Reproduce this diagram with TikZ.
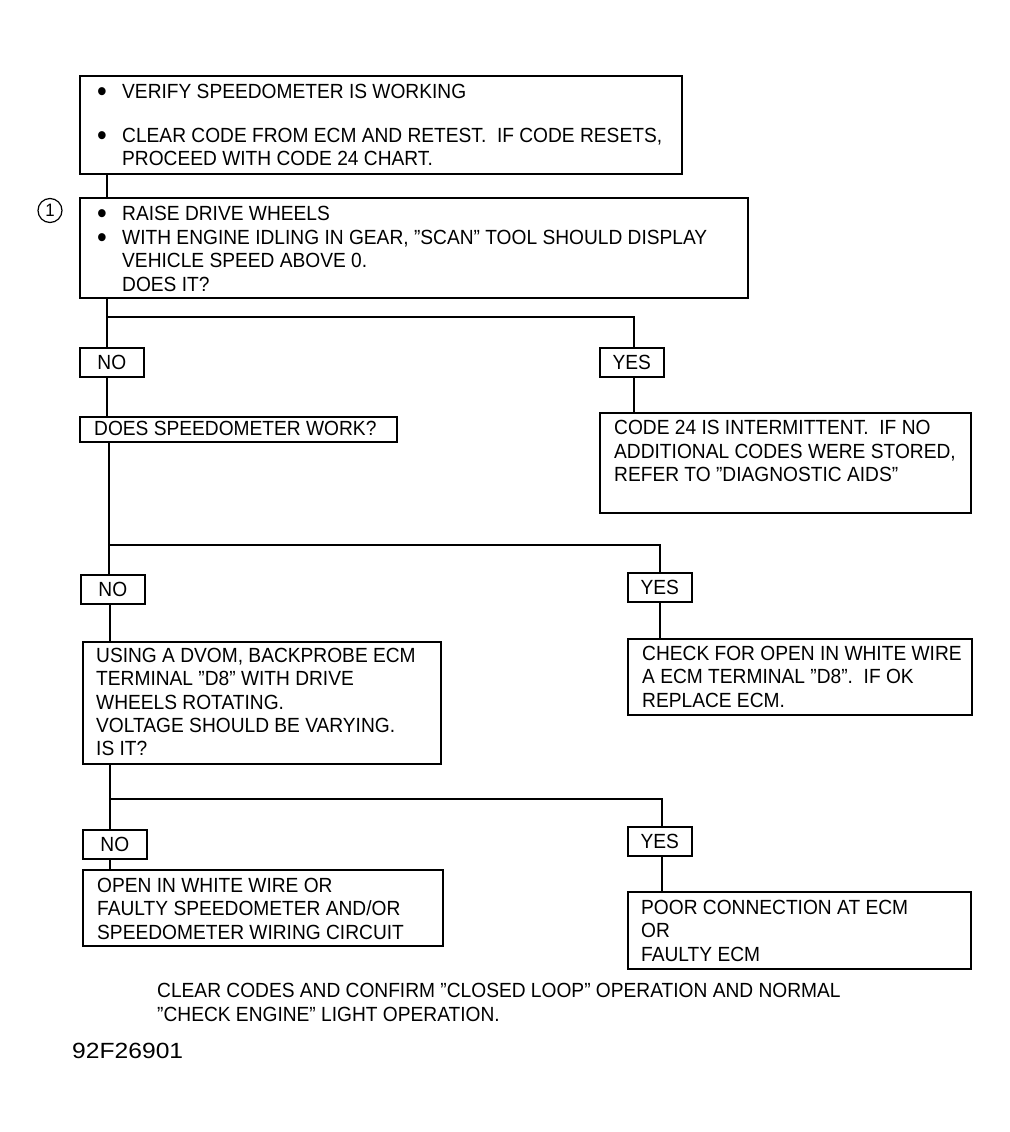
\documentclass[tikz,border=0pt]{standalone}
\usepackage{fontspec}
\setmainfont[FakeStretch=0.935]{Liberation Sans}
\newfontfamily\codefont[FakeStretch=1.12]{Liberation Sans}
\newcommand\bodyfont{\fontsize{20.5}{23.3}\selectfont}
\newcommand\bul{\makebox[25pt][l]{\raisebox{-3pt}[0pt][0pt]{\scalebox{1.45}{\textbullet}}}}
\newcommand\ind{\hspace*{25pt}}
\tikzset{
  box/.style={draw, line width=1.6pt, anchor=north west, inner sep=0pt},
  lab/.style={draw, line width=1.6pt, anchor=north west, inner sep=0pt, font=\bodyfont, minimum width=64pt, minimum height=29pt},
  txt/.style={anchor=north west, inner sep=0pt, align=left, font=\bodyfont},
  wire/.style={line width=1.6pt},
}
\begin{document}
\begin{tikzpicture}[x=1pt,y=-1pt]
\useasboundingbox[fill=white] (0,0) rectangle (1009,1132);

% column positions of the connectors
\coordinate (xa) at (107,0);
\coordinate (xb) at (634,0);
\coordinate (xc) at (109,0);
\coordinate (xd) at (660,0);
\coordinate (xe) at (110,0);
\coordinate (xf) at (662,0);
\coordinate (ya) at (0,317);
\coordinate (yb) at (0,545);
\coordinate (yc) at (0,799);

% boxes
\node[box, minimum width=602pt, minimum height=98pt] (b1) at (79,75) {};
\node[box, minimum width=668pt, minimum height=100pt] (b2) at (79,197) {};
\node[lab] (no1) at (79,347) {NO};
\node[lab] (yes1) at (599,347) {YES};
\node[box, minimum width=317pt, minimum height=25pt] (b3) at (79,416) {};
\node[box, minimum width=371pt, minimum height=100pt] (b4) at (599,412) {};
\node[lab] (no2) at (80,574) {NO};
\node[lab] (yes2) at (627,572) {YES};
\node[box, minimum width=358pt, minimum height=122pt] (b5) at (82,641) {};
\node[box, minimum width=344pt, minimum height=76pt] (b6) at (627,638) {};
\node[lab] (no3) at (82,829) {NO};
\node[lab] (yes3) at (627,826) {YES};
\node[box, minimum width=360pt, minimum height=76pt] (b7) at (82,869) {};
\node[box, minimum width=343pt, minimum height=77pt] (b8) at (627,891) {};

% texts
\node[txt] (t1) at (97,84) {\bul VERIFY SPEEDOMETER IS WORKING\\[20.7pt]
\bul CLEAR CODE FROM ECM AND RETEST.\ \ IF CODE RESETS,\\
\ind PROCEED WITH CODE 24 CHART.};
\node[txt, font=\fontsize{20.5}{23.6}\selectfont] (t2) at (97,206) {\bul RAISE DRIVE WHEELS\\
\bul WITH ENGINE IDLING IN GEAR, "SCAN" TOOL SHOULD DISPLAY\\
\ind VEHICLE SPEED ABOVE 0.\\
\ind DOES IT?};
\node[circle, draw, line width=1.2pt, minimum size=24pt, inner sep=0pt, font=\fontsize{18}{18}\selectfont] (c1) at (50,210.5) {1};
\node[txt] (t3) at (94,421) {DOES SPEEDOMETER WORK?};
\node[txt, font=\fontsize{20.5}{23.5}\selectfont] (t4) at (614,420) {CODE 24 IS INTERMITTENT.\ \ IF NO\\
ADDITIONAL CODES WERE STORED,\\
REFER TO "DIAGNOSTIC AIDS"};
\node[txt] (t5) at (96,648) {USING A DVOM, BACKPROBE ECM\\
TERMINAL "D8" WITH DRIVE\\
WHEELS ROTATING.\\
VOLTAGE SHOULD BE VARYING.\\
IS IT?};
\node[txt] (t6) at (642,646) {CHECK FOR OPEN IN WHITE WIRE\\
A ECM TERMINAL "D8".\ \ IF OK\\
REPLACE ECM.};
\node[txt] (t7) at (97,878) {OPEN IN WHITE WIRE OR\\
FAULTY SPEEDOMETER AND/OR\\
SPEEDOMETER WIRING CIRCUIT};
\node[txt] (t8) at (641,900) {POOR CONNECTION AT ECM\\
OR\\
FAULTY ECM};
\node[txt, font=\fontsize{20.5}{24}\selectfont] (t9) at (157,983) {CLEAR CODES AND CONFIRM "CLOSED LOOP" OPERATION AND NORMAL\\
"CHECK ENGINE" LIGHT OPERATION.};
\node[txt, font=\codefont\fontsize{22}{24}\selectfont] (t10) at (72,1043) {92F26901};

% connectors
\draw[wire] (b1.south -| xa) -- (b2.north -| xa);
\draw[wire] (b2.south -| xa) -- (no1.north -| xa);
\draw[wire] (ya -| xa) -- (ya -| xb) -- (yes1.north -| xb);
\draw[wire] (no1.south -| xa) -- (b3.north -| xa);
\draw[wire] (yes1.south -| xb) -- (b4.north -| xb);
\draw[wire] (b3.south -| xc) -- (no2.north -| xc);
\draw[wire] (yb -| xc) -- (yb -| xd) -- (yes2.north -| xd);
\draw[wire] (no2.south -| xe) -- (b5.north -| xe);
\draw[wire] (yes2.south -| xd) -- (b6.north -| xd);
\draw[wire] (b5.south -| xe) -- (no3.north -| xe);
\draw[wire] (yc -| xe) -- (yc -| xf) -- (yes3.north -| xf);
\draw[wire] (no3.south -| xe) -- (b7.north -| xe);
\draw[wire] (yes3.south -| xf) -- (b8.north -| xf);
\end{tikzpicture}
\end{document}
